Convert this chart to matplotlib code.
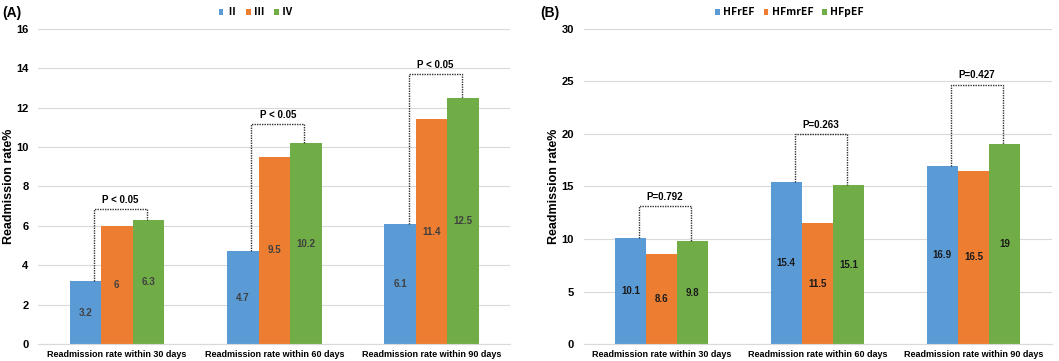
import numpy as np
import matplotlib
matplotlib.use("Agg")
import matplotlib.pyplot as plt

plt.rcParams['font.family'] = ['Liberation Sans', 'DejaVu Sans']
plt.rcParams['font.weight'] = 'bold'

categories = ["Readmission rate within 30 days",
              "Readmission rate within 60 days",
              "Readmission rate within 90 days"]

# panel A: NYHA class
nyha_labels = ["\u2161", "\u2162", "\u2163"]
nyha_ii = [3.2, 4.7, 6.1]
nyha_iii = [6, 9.5, 11.4]
nyha_iv = [6.3, 10.2, 12.5]
nyha_p = ["P < 0.05", "P < 0.05", "P < 0.05"]
nyha_bracket = [6.85, 11.15, 13.7]

# panel B: EF group
ef_labels = ["HFrEF", "HFmrEF", "HFpEF"]
ef_hfref = [10.1, 15.4, 16.9]
ef_hfmref = [8.6, 11.5, 16.5]
ef_hfpef = [9.8, 15.1, 19]
ef_p = ["P=0.792", "P=0.263", "P=0.427"]
ef_bracket = [13.1, 20.0, 24.7]

colors = ["#5B9BD5", "#ED7D31", "#70AD47"]


def draw_panel(ax, series, labels, pvals, brackets, ymax, ystep, txtcol, leg_x, ylab_x):
    x = np.arange(len(categories))
    w = 0.2
    for i, (vals, lab) in enumerate(zip(series, labels)):
        xs = x + (i - 1) * w
        bars = ax.bar(xs, vals, w, color=colors[i], label=lab, zorder=2)
        for b, v in zip(bars, vals):
            ax.text(b.get_x() + w / 2, v / 2, str(v), ha='center', va='center',
                    fontsize=7, fontweight='bold', color=txtcol, zorder=3)
    # dotted significance brackets
    for j in range(len(categories)):
        left = x[j] - 0.145
        right = x[j] + 0.19
        top = brackets[j]
        ax.plot([left, left, right, right],
                [series[0][j], top, top, series[2][j]],
                color='#333333', ls=(0, (1, 0.8)), lw=1.0, zorder=4)
        ax.annotate(pvals[j], ((left + right) / 2, top), xytext=(0, 3),
                    textcoords='offset points', ha='center', va='bottom',
                    fontsize=7, fontweight='bold')
    ax.set_xlim(-0.5, len(categories) - 0.5)
    ax.set_ylim(0, ymax)
    ax.set_yticks(np.arange(0, ymax + 0.1, ystep))
    ax.set_xticks(x)
    ax.set_xticklabels(categories, fontsize=6.5, fontweight='bold')
    ax.tick_params(axis='y', labelsize=8, length=0, pad=7)
    ax.tick_params(axis='x', length=0, pad=4)
    ax.grid(axis='y', color='#D9D9D9', lw=0.8, zorder=0)
    for s in ['top', 'right', 'left']:
        ax.spines[s].set_visible(False)
    ax.spines['bottom'].set_color('#D9D9D9')
    ax.set_ylabel("Readmission rate%", fontsize=9, fontweight='bold')
    ax.yaxis.set_label_coords(ylab_x, 0.5)
    ax.legend(loc='center', bbox_to_anchor=(leg_x, 1.052), ncol=3, frameon=False,
              handlelength=0.45, handleheight=0.45, handletextpad=0.3,
              columnspacing=0.9, prop={'family': ['Noto Sans CJK SC', 'DejaVu Sans'],
                                       'weight': 'bold', 'size': 7.5})


fig = plt.figure(figsize=(10.59, 3.61), dpi=100)
axA = fig.add_axes([0.036, 0.047, 0.446, 0.873])
axB = fig.add_axes([0.551, 0.047, 0.442, 0.873])

draw_panel(axA, [nyha_ii, nyha_iii, nyha_iv], nyha_labels, nyha_p, nyha_bracket,
           16, 2, '#404040', 0.46, -0.05)
draw_panel(axB, [ef_hfref, ef_hfmref, ef_hfpef], ef_labels, ef_p, ef_bracket,
           30, 5, '#1a1a1a', 0.44, -0.05)

fig.text(0.002, 0.965, "(A)", fontsize=10, fontweight='bold', va='center')
fig.text(0.510, 0.965, "(B)", fontsize=10, fontweight='bold', va='center')

fig.savefig("out.png", dpi=100)
